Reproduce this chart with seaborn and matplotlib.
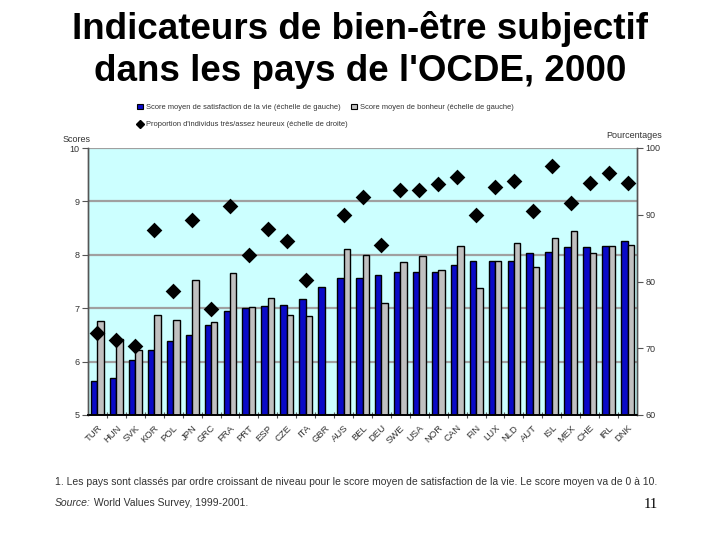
import numpy as np
import pandas as pd
import matplotlib
matplotlib.use("Agg")
import matplotlib.pyplot as plt
from matplotlib.patches import Patch
from matplotlib.lines import Line2D
from matplotlib.ticker import FixedLocator
import seaborn as sns

countries = ['TUR', 'HUN', 'SVK', 'KOR', 'POL', 'JPN', 'GRC', 'FRA', 'PRT', 'ESP',
             'CZE', 'ITA', 'GBR', 'AUS', 'BEL', 'DEU', 'SWE', 'USA', 'NOR', 'CAN',
             'FIN', 'LUX', 'NLD', 'AUT', 'ISL', 'MEX', 'CHE', 'IRL', 'DNK']
satisfaction = [5.63, 5.69, 6.03, 6.21, 6.38, 6.49, 6.68, 6.94, 7.00, 7.05,
                7.06, 7.17, 7.40, 7.56, 7.56, 7.62, 7.67, 7.67, 7.67, 7.80,
                7.88, 7.88, 7.88, 8.03, 8.06, 8.14, 8.15, 8.17, 8.25]
happiness = [6.76, 6.43, 6.21, 6.87, 6.77, 7.53, 6.74, 7.65, 7.02, 7.20,
             6.88, 6.86, np.nan, 8.10, 8.00, 7.10, 7.87, 7.98, 7.72, 8.17,
             7.38, 7.88, 8.23, 7.77, 8.32, 8.44, 8.03, 8.16, 8.19]
happy_pct = [72.3, 71.2, 70.4, 87.7, 78.6, 89.2, 75.9, 91.3, 83.9, 87.8,
             86.1, 80.2, np.nan, 90.0, 92.7, 85.4, 93.7, 93.7, 94.6, 95.6,
             90.0, 94.2, 95.1, 90.6, 97.3, 91.8, 94.7, 96.3, 94.7]

lab_sat = "Score moyen de satisfaction de la vie (échelle de gauche)"
lab_hap = "Score moyen de bonheur (échelle de gauche)"
lab_pct = "Proportion d'individus très/assez heureux (échelle de droite)"

sns.set_theme(style="white")
plt.rcParams['font.family'] = ['Liberation Sans', 'DejaVu Sans']

df = pd.DataFrame({
    'pays': countries * 2,
    'score': satisfaction + happiness,
    'serie': [lab_sat] * len(countries) + [lab_hap] * len(countries),
})

BLUE = '#0A0AC8'
GREY = '#C0C0C0'
BG = '#CCFFFF'
TXT = '#333333'

fig = plt.figure(figsize=(7.2, 5.4), dpi=100)
ax = fig.add_axes([88 / 720, 1 - 415 / 540, (637 - 88) / 720, (415 - 148) / 540])
ax.set_facecolor(BG)

sns.barplot(data=df, x='pays', y='score', hue='serie', order=countries,
            hue_order=[lab_sat, lab_hap], palette=[BLUE, GREY],
            width=0.68, edgecolor='black', linewidth=1.0, saturation=1,
            legend=False, ax=ax)

ax.set_ylim(5, 10)
ax.set_yticks([5, 6, 7, 8, 9, 10])
ax.set_yticklabels(['5', '6', '7', '8', '9', '10'])
ax.yaxis.grid(True, color='#A0A0A0', linewidth=1.6)
ax.set_axisbelow(True)
ax.set_xlabel('')
ax.set_ylabel('')
ax.set_xlim(-0.5, len(countries) - 0.5)

ax2 = ax.twinx()
sns.stripplot(x=countries, y=happy_pct, order=countries, jitter=False,
              marker='D', color='black', size=8, linewidth=0, ax=ax2)
ax2.set_ylim(60, 100)
ax2.set_yticks([60, 70, 80, 90, 100])
ax2.set_yticklabels(['60', '70', '80', '90', '100'])
ax2.set_xlim(-0.5, len(countries) - 0.5)
ax2.grid(False)

for a in (ax, ax2):
    a.spines['top'].set_visible(False)
    a.spines['left'].set_color('#555555')
    a.spines['right'].set_color('#555555')
    a.spines['bottom'].set_color('black')
    a.spines['left'].set_linewidth(1.0)
    a.spines['right'].set_linewidth(1.0)
    a.spines['bottom'].set_linewidth(1.2)

ax.tick_params(axis='y', which='major', left=True, direction='out', length=4,
               width=0.8, color='#555555', labelsize=6.5, labelcolor=TXT, pad=2)
ax2.tick_params(axis='y', which='major', right=True, direction='out', length=4,
                width=0.8, color='#555555', labelsize=6.5, labelcolor=TXT, pad=2)

ax.set_xticks(range(len(countries)))
ax.set_xticklabels(countries, rotation=45, ha='right', rotation_mode='anchor',
                   fontsize=6.8, color=TXT)
ax.tick_params(axis='x', which='major', length=0, pad=6)
ax.xaxis.set_minor_locator(FixedLocator(np.arange(0.5, len(countries) - 0.5, 1)))
ax.tick_params(axis='x', which='minor', bottom=True, direction='inout', length=5,
               width=0.8, color='#555555')
ax2.set_xlabel('')
ax2.set_ylabel('')

fig.text(63 / 720, 1 - 139 / 540, 'Scores', fontsize=6.5, color=TXT,
         ha='left', va='center')
fig.text(662 / 720, 1 - 136 / 540, 'Pourcentages', fontsize=6.5, color=TXT,
         ha='right', va='center')

# title
fig.text(0.5, 1 - 39 / 540, "Indicateurs de bien-être subjectif",
         fontsize=26.5, fontweight='bold', ha='center', va='baseline', color='black')
fig.text(0.5, 1 - 81 / 540, "dans les pays de l'OCDE, 2000",
         fontsize=26.5, fontweight='bold', ha='center', va='baseline', color='black')

# legend
handles = [
    Patch(facecolor=BLUE, edgecolor='black', linewidth=0.8, label=lab_sat),
    Line2D([0], [0], marker='D', color='black', linestyle='none',
           markersize=4, label=lab_pct),
    Patch(facecolor=GREY, edgecolor='black', linewidth=0.8, label=lab_hap),
]
fig.legend(handles=handles, ncol=2, loc='center left',
           bbox_to_anchor=(134 / 720, 1 - 116 / 540), frameon=False,
           fontsize=5.45, handlelength=0.8, handleheight=0.8, handletextpad=0.35,
           columnspacing=0.5, labelspacing=1.3, borderaxespad=0,
           labelcolor=TXT)

# footnotes
fig.text(55 / 720, 1 - 482 / 540,
         "1. Les pays sont classés par ordre croissant de niveau pour le score moyen "
         "de satisfaction de la vie. Le score moyen va de 0 à 10.",
         fontsize=7.5, color=TXT, ha='left', va='center')
t_src = fig.text(55 / 720, 1 - 503 / 540, "Source:", fontsize=7.5, color=TXT,
                 ha='left', va='center', style='italic')
fig.canvas.draw()
bb = t_src.get_window_extent(renderer=fig.canvas.get_renderer())
x_after = fig.transFigure.inverted().transform((bb.x1, bb.y0))[0]
fig.text(x_after, 1 - 503 / 540, " World Values Survey, 1999-2001.",
         fontsize=7.5, color=TXT, ha='left', va='center')

fig.text(651 / 720, 1 - 504 / 540, "11", fontsize=10.5, color='black',
         ha='center', va='center', family=['Liberation Serif', 'DejaVu Serif'])

fig.savefig('out.png', dpi=100, facecolor='white')
